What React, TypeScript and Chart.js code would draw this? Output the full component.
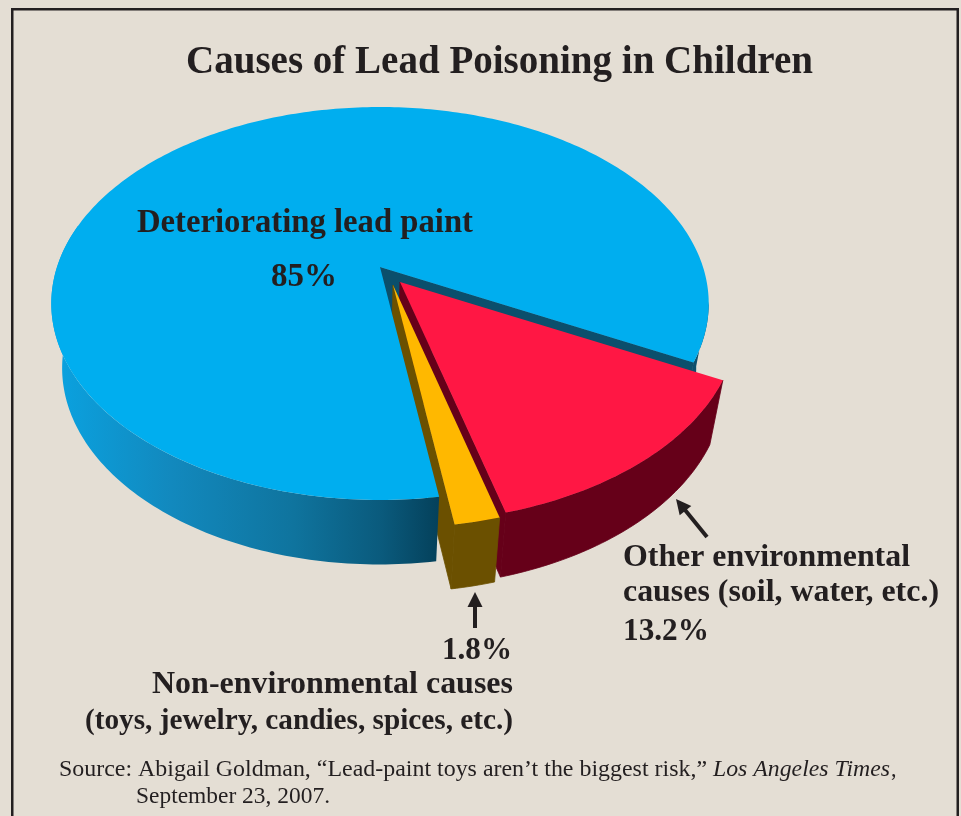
import React, { useEffect, useRef } from "react";
import { Chart, registerables } from "chart.js";

Chart.register(...registerables);

const categories = [
  "Deteriorating lead paint",
  "Other environmental causes (soil, water, etc.)",
  "Non-environmental causes (toys, jewelry, candies, spices, etc.)",
];
const shares = [85, 13.2, 1.8];
const titleText = "Causes of Lead Poisoning in Children";
const sourceLead = "Source: Abigail Goldman, \u201cLead-paint toys aren\u2019t the biggest risk,\u201d ";
const sourceItalic = "Los Angeles Times";
const sourceTail = ",";
const sourceLine2 = "September 23, 2007.";

const INK = "#231F20";
const SERIF = '"Liberation Serif", serif';

// projection of the pie's unit circle on to the page
const A = 323;
const B = 189.7;
const K = -0.1857;
const DEPTH = 64.5;

const looks = [
  { cx: 380, cy: 267, r: 1, top: "#00AEEF", wall: "#0B4F6C", side: "#0B4F6C" },
  { cx: 400, cy: 282, r: 1.027, top: "#FF1744", wall: "#660019", side: "#660019" },
  { cx: 393, cy: 285, r: 1.034, top: "#FFB800", wall: "#6B5000", side: "#6B5000" },
];

type P = [number, number];
const project = (l: any, angle: number, r: number): P => {
  const u = Math.cos(angle) * r;
  const v = Math.sin(angle) * r;
  const w = 1 + K * v;
  return [l.cx + (A * u) / w, l.cy + (B * v) / w];
};
const drop = (p: P): P => {
  const x = p[0];
  const dx = x < 440 ? 10 - (13 * (x - 75)) / 365 : -3 - (10 * (x - 440)) / 282;
  return [x + dx, p[1] + DEPTH];
};

const poly = (ctx: CanvasRenderingContext2D, pts: P[], fill: any, seal = false) => {
  ctx.beginPath();
  pts.forEach((p, i) => (i ? ctx.lineTo(p[0], p[1]) : ctx.moveTo(p[0], p[1])));
  ctx.closePath();
  ctx.fillStyle = fill;
  ctx.fill();
  if (seal) {
    ctx.strokeStyle = fill;
    ctx.lineWidth = 0.8;
    ctx.lineJoin = "round";
    ctx.stroke();
  }
};

const rim = (l: any, a0: number, a1: number): P[] => {
  const n = Math.max(8, Math.ceil(Math.abs(a1 - a0) * 60));
  const out: P[] = [];
  for (let i = 0; i <= n; i++) out.push(project(l, a0 + ((a1 - a0) * i) / n, l.r));
  return out;
};

const drawTop = (ctx: CanvasRenderingContext2D, l: any, a0: number, a1: number) => {
  poly(ctx, [[l.cx, l.cy], ...rim(l, a0, a1)], l.top);
};
const drawSide = (ctx: CanvasRenderingContext2D, l: any, a0: number, a1: number, fill: any, seal = true) => {
  const edge = rim(l, a0, a1);
  poly(ctx, [...edge, ...edge.map(drop).reverse()], fill, seal);
};
const drawWall = (ctx: CanvasRenderingContext2D, l: any, a: number) => {
  const c: P = [l.cx, l.cy];
  const e = project(l, a, l.r);
  poly(ctx, [c, e, drop(e), drop(c)], l.wall, true);
};

const pie3d = {
  id: "pie3d",
  beforeDraw(chart: any) {
    const { ctx, width, height } = chart;
    ctx.save();
    ctx.fillStyle = "#E4DED4";
    ctx.fillRect(0, 0, width, height);
    ctx.fillStyle = INK;
    ctx.fillRect(11, 8, 948, 2.5);
    ctx.fillRect(11, 8, 2.5, height - 8);
    ctx.fillRect(956.5, 8, 2.5, height - 8);
    ctx.restore();
  },
  beforeDatasetsDraw(chart: any) {
    const { ctx } = chart;
    const arcs = chart.getDatasetMeta(0).data;
    const [blue, red, yellow] = arcs;
    ctx.save();

    // far wall and right rim of the large slice, seen through the notch
    drawSide(ctx, looks[0], blue.endAngle - 0.3, blue.endAngle, looks[0].side, false);
    drawWall(ctx, looks[0], blue.endAngle);

    drawWall(ctx, looks[1], red.endAngle);
    drawSide(ctx, looks[1], red.startAngle, red.endAngle, looks[1].side);
    drawTop(ctx, looks[1], red.startAngle, red.endAngle);

    drawWall(ctx, looks[2], yellow.endAngle);
    drawSide(ctx, looks[2], yellow.startAngle, yellow.endAngle, looks[2].side);
    drawTop(ctx, looks[2], yellow.startAngle, yellow.endAngle);

    const grad = ctx.createLinearGradient(55, 0, 440, 0);
    grad.addColorStop(0, "#0AA2E0");
    grad.addColorStop(0.3, "#1289BE");
    grad.addColorStop(0.62, "#0F749E");
    grad.addColorStop(0.85, "#0A5A7C");
    grad.addColorStop(1, "#04405A");
    drawSide(ctx, looks[0], blue.startAngle, blue.startAngle + Math.PI * 0.62, grad, false);
    drawTop(ctx, looks[0], blue.startAngle, blue.endAngle);
    ctx.restore();
    return false;
  },
  afterDraw(chart: any) {
    const { ctx } = chart;
    ctx.save();
    ctx.fillStyle = INK;
    ctx.textBaseline = "alphabetic";
    ctx.textAlign = "left";
    // set text from its left edge so that it fills the given width
    const fit = (s: string, x: number, y: number, font: string, w: number) => {
      ctx.font = font;
      const k = w / ctx.measureText(s).width;
      ctx.save();
      ctx.translate(x, y);
      ctx.scale(k, 1);
      ctx.fillText(s, 0, 0);
      ctx.restore();
    };
    const t = (s: string, x: number, y: number, size: number, w: number) =>
      fit(s, x, y, `bold ${size}px ${SERIF}`, w);
    t(titleText, 186, 73, 39, 627);
    t("Deteriorating lead paint", 137, 232, 34, 336);
    t(`${shares[0]}%`, 271, 286, 33, 66);
    t("Other environmental", 623, 566, 32, 287);
    t("causes (soil, water, etc.)", 623, 601, 32, 316);
    t(`${shares[1]}%`, 623, 640, 32, 86);
    t(`${shares[2]}%`, 442, 659, 32, 70);
    t("Non-environmental causes", 152, 693, 32, 361);
    t("(toys, jewelry, candies, spices, etc.)", 85, 729, 29, 428);

    const sf = `23.5px ${SERIF}`;
    const si = `italic 23.5px ${SERIF}`;
    fit(sourceLead, 59, 776, sf, 654);
    fit(sourceItalic, 713, 776, si, 177);
    fit(sourceTail, 891, 776, sf, 5.5);
    fit(sourceLine2, 136, 803, sf, 194);

    const arrow = (x0: number, y0: number, x1: number, y1: number) => {
      const a = Math.atan2(y1 - y0, x1 - x0);
      const len = Math.hypot(x1 - x0, y1 - y0);
      ctx.save();
      ctx.translate(x0, y0);
      ctx.rotate(a);
      ctx.fillStyle = INK;
      ctx.fillRect(0, -2, len - 14, 4);
      ctx.beginPath();
      ctx.moveTo(len, 0);
      ctx.lineTo(len - 15, -7.5);
      ctx.lineTo(len - 15, 7.5);
      ctx.closePath();
      ctx.fill();
      ctx.restore();
    };
    arrow(475, 628, 475, 592);
    arrow(707, 537, 676, 499);
    ctx.restore();
  },
};

export default function App() {
  const ref = useRef<HTMLCanvasElement>(null);
  useEffect(() => {
    const chart = new Chart(ref.current as HTMLCanvasElement, {
      type: "pie",
      data: {
        labels: categories,
        datasets: [{ data: shares, backgroundColor: looks.map((l) => l.top), borderWidth: 0 }],
      },
      options: {
        responsive: false,
        animation: false,
        devicePixelRatio: 1,
        rotation: 171.4,
        plugins: { legend: { display: false }, tooltip: { enabled: false } },
      },
      plugins: [pie3d],
    } as any);
    return () => chart.destroy();
  }, []);
  return (
    <canvas
      ref={ref}
      width={961}
      height={816}
      style={{ position: "absolute", left: 0, top: 0, width: 961, height: 816, display: "block" }}
    />
  );
}
